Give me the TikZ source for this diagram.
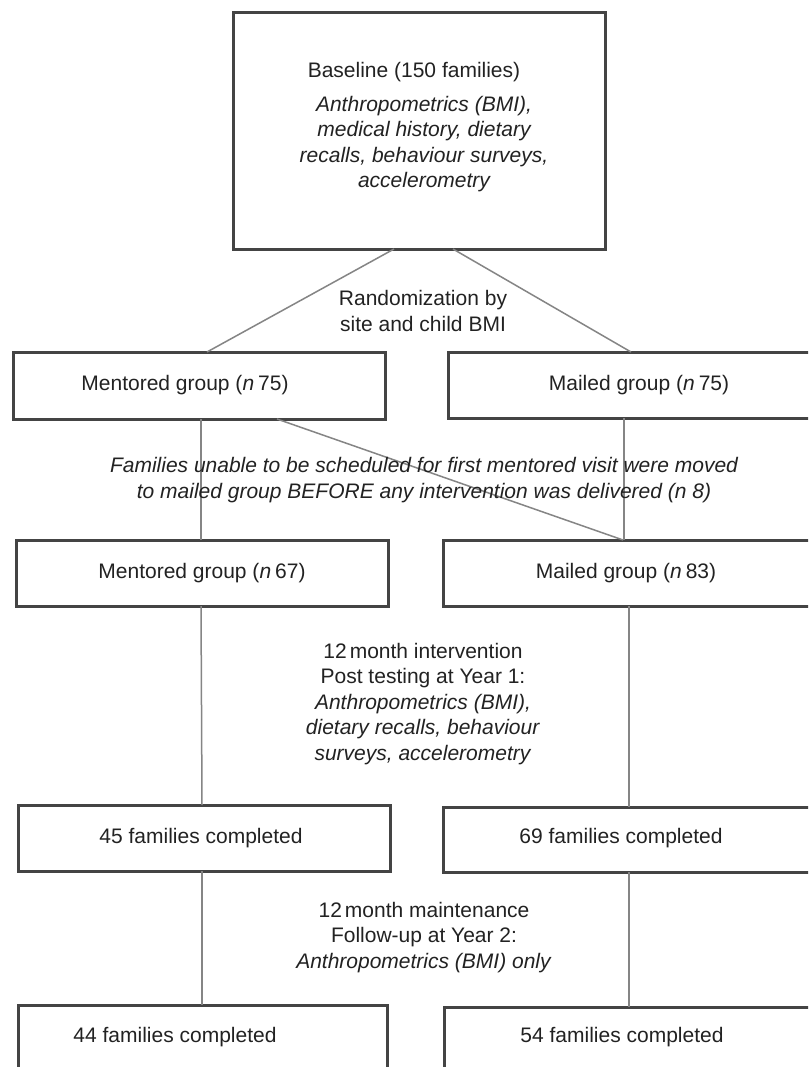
\documentclass[tikz,border=0pt]{standalone}
\usepackage{fontspec}
\setmainfont{Liberation Sans}
\definecolor{boxcol}{HTML}{444444}
\definecolor{linecol}{HTML}{858585}
\definecolor{textcol}{HTML}{222222}
\begin{document}
\begin{tikzpicture}[x=1pt,y=-1pt,
  box/.style={draw=boxcol, line width=3pt, fill=white, inner sep=0pt, outer sep=0pt},
  conn/.style={draw=linecol, line width=1.5pt},
  lbl/.style={font=\fontsize{21}{25.5}\selectfont, text=textcol, align=center, inner sep=0pt}]
\useasboundingbox (0,0) rectangle (808,1067);
\fill[white] (0,0) rectangle (808,1067);
\clip (0,0) rectangle (808,1067);
% boxes
\node[box, minimum width=372pt, minimum height=236pt] (top) at (419,131) {};
\node[box, minimum width=372pt, minimum height=67pt] (m75) at (199,385.5) {};
\node[box, minimum width=372pt, minimum height=66pt] (a75) at (634,385) {};
\node[box, minimum width=372pt, minimum height=66pt] (m67) at (202,573) {};
\node[box, minimum width=372pt, minimum height=66pt] (a83) at (629,573) {};
\node[box, minimum width=372pt, minimum height=66pt] (m45) at (204,838) {};
\node[box, minimum width=372pt, minimum height=65pt] (a69) at (629,839.5) {};
\node[box, minimum width=369pt, minimum height=66pt] (m44) at (202.5,1038) {};
\node[box, minimum width=372pt, minimum height=66pt] (a54) at (630,1040) {};
% connectors
\draw[conn] ([xshift=-25pt]top.south) -- ([xshift=8pt]m75.north);
\draw[conn] ([xshift=34pt]top.south) -- ([xshift=-3pt]a75.north);
\draw[conn] ([xshift=2pt]m75.south) -- ([xshift=-1pt]m67.north);
\draw[conn] ([xshift=78pt]m75.south) -- ([xshift=-6pt]a83.north);
\draw[conn] ([xshift=-10pt]a75.south) -- ([xshift=-5pt]a83.north);
\draw[conn] ([xshift=-1pt]m67.south) -- ([xshift=-2pt]m45.north);
\draw[conn] (a83.south) -- (a69.north);
\draw[conn] ([xshift=-2pt]m45.south) -- ([xshift=-0.5pt]m44.north);
\draw[conn] (a69.south) -- ([xshift=-1pt]a54.north);
% texts
\node[lbl] (basel) at (414,72) {Baseline (150 families)};
\node[lbl, font=\fontsize{21}{25.5}\selectfont\itshape] (topit) at (424,144) {Anthropometrics (BMI),\\medical history, dietary\\recalls, behaviour surveys,\\accelerometry};
\node[lbl] (rand) at (423,311) {Randomization by\\site and child BMI};
\node[lbl] (m75t) at (185,385) {Mentored group (\textit{n}\hspace{4pt}75)};
\node[lbl] (a75t) at (639,385) {Mailed group (\textit{n}\hspace{4pt}75)};
\node[lbl, font=\fontsize{21}{25.5}\selectfont\itshape] (fam) at (424,480) {Families unable to be scheduled for first mentored visit were moved\\to mailed group BEFORE any intervention was delivered (n 8)};
\node[lbl] (m67t) at (202,573) {Mentored group (\textit{n}\hspace{4pt}67)};
\node[lbl] (a83t) at (626,573) {Mailed group (\textit{n}\hspace{4pt}83)};
\node[lbl] (inter) at (423,704) {12\hspace{3pt}month intervention\\Post testing at Year 1:\\\textit{Anthropometrics (BMI),}\\\textit{dietary recalls, behaviour}\\\textit{surveys, accelerometry}};
\node[lbl] (m45t) at (201,838) {45 families completed};
\node[lbl] (a69t) at (621,838) {69 families completed};
\node[lbl] (maint) at (424,937.5) {12\hspace{3pt}month maintenance\\Follow-up at Year 2:\\\textit{Anthropometrics (BMI) only}};
\node[lbl] (m44t) at (175,1037) {44 families completed};
\node[lbl] (a54t) at (622,1037) {54 families completed};
\end{tikzpicture}
\end{document}
